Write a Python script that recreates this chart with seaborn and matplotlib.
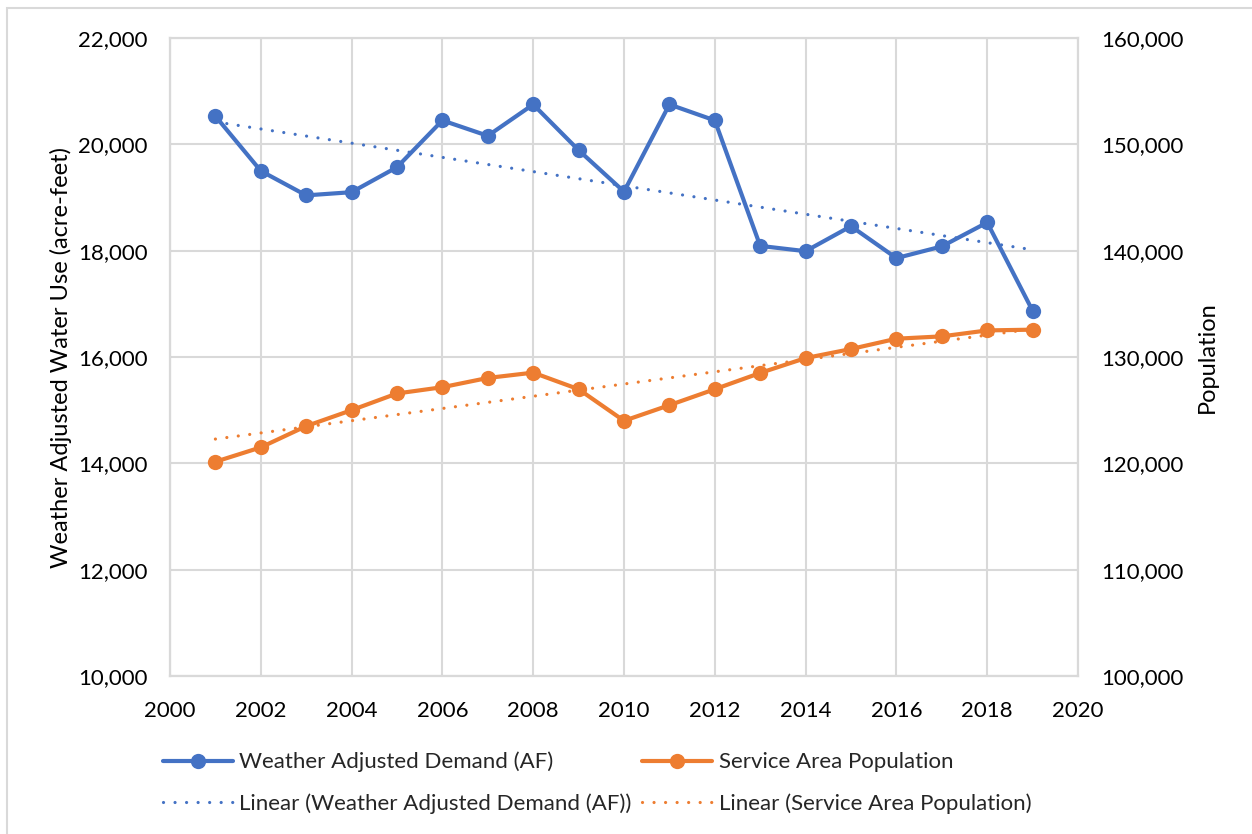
import pandas as pd
import seaborn as sns
import matplotlib
matplotlib.use('Agg')
import matplotlib.pyplot as plt
from matplotlib.ticker import FuncFormatter
from matplotlib.patches import Rectangle

# --- data ---
years = [2001, 2002, 2003, 2004, 2005, 2006, 2007, 2008, 2009, 2010,
         2011, 2012, 2013, 2014, 2015, 2016, 2017, 2018, 2019]
demand_af = [20530, 19500, 19040, 19100, 19570, 20450, 20160, 20750, 19890, 19110,
             20750, 20450, 18090, 17990, 18460, 17860, 18080, 18530, 16870]
population = [120150, 121500, 123500, 125000, 126570, 127160, 128030, 128530, 126970, 124000,
              125470, 126970, 128500, 129900, 130750, 131720, 131940, 132500, 132570]

x_ticks = list(range(2000, 2021, 2))
left_ticks = list(range(10000, 22001, 2000))
right_ticks = list(range(100000, 160001, 10000))

label_demand = "Weather Adjusted Demand (AF)"
label_pop = "Service Area Population"
label_left = "Weather Adjusted Water Use (acre-feet)"
label_right = "Population"

df = pd.DataFrame({"year": years, "demand": demand_af, "population": population})

BLUE = "#4472C4"
ORANGE = "#ED7D31"
GRID = "#D9D9D9"

sns.set_theme(style="white")
plt.rcParams['font.family'] = ['Lato', 'DejaVu Sans']
FS = 16

fig = plt.figure(figsize=(12.52, 8.34), dpi=100)
ax = fig.add_axes([170 / 1252, 1 - 676 / 834, 908 / 1252, 638 / 834])
ax2 = ax.twinx()

# outer chart border (top and left edges visible)
fig.patches.append(Rectangle((7 / 1252, -0.1), 1.2, 1 - 8 / 834 + 0.1,
                             transform=fig.transFigure, fill=False,
                             edgecolor=GRID, linewidth=1.5, zorder=0))

line_kws = dict(linewidth=3, marker="o", markersize=11, markeredgewidth=0)
dot_kws = dict(linestyle=(0, (0.01, 3.6)), linewidth=2.3, dash_capstyle="round")

sns.lineplot(data=df, x="year", y="demand", ax=ax, color=BLUE,
             label=label_demand, zorder=3, **line_kws)
sns.regplot(data=df, x="year", y="demand", ax=ax, scatter=False, ci=None,
            color=BLUE, label="Linear (" + label_demand + ")",
            line_kws=dict(zorder=4, **dot_kws))

sns.lineplot(data=df, x="year", y="population", ax=ax2, color=ORANGE,
             label=label_pop, zorder=3, **line_kws)
sns.regplot(data=df, x="year", y="population", ax=ax2, scatter=False, ci=None,
            color=ORANGE, label="Linear (" + label_pop + ")",
            line_kws=dict(zorder=4, **dot_kws))

h1, l1 = ax.get_legend_handles_labels()
h2, l2 = ax2.get_legend_handles_labels()
for a in (ax, ax2):
    if a.get_legend() is not None:
        a.get_legend().remove()

# axes styling
ax.set_xlim(2000, 2020)
ax.set_ylim(10000, 22000)
ax2.set_ylim(100000, 160000)
ax.set_xticks(x_ticks)
ax.set_yticks(left_ticks)
ax2.set_yticks(right_ticks)
fmt = FuncFormatter(lambda v, p: f"{int(v):,}")
ax.yaxis.set_major_formatter(fmt)
ax2.yaxis.set_major_formatter(fmt)

ax.grid(True, color=GRID, linewidth=1.5)
ax2.grid(False)
for a in (ax, ax2):
    for s in a.spines.values():
        s.set_color(GRID)
        s.set_linewidth(1.5)
ax.spines['left'].set_color("#BFBFBF")
ax.spines['bottom'].set_color("#BFBFBF")

ax.tick_params(axis="x", length=0, pad=18, labelsize=FS, colors="black")
ax.tick_params(axis="y", length=0, pad=16, labelsize=FS, colors="black")
ax2.tick_params(axis="y", length=0, pad=17, labelsize=FS, colors="black")

ax.set_xlabel("")
ax.set_ylabel(label_left, fontsize=FS + 1, color="black")
ax.yaxis.set_label_coords((72 - 170) / 908, 0.5)
ax2.set_ylabel(label_right, fontsize=FS + 1, color="black")
ax2.yaxis.set_label_coords((1197 - 170) / 908, 0.5)

handles = [h1[0], h1[1], h2[0], h2[1]]
labels = [l1[0], l1[1], l2[0], l2[1]]
fig.legend(handles, labels, ncol=2, loc="center",
           bbox_to_anchor=(597 / 1252, 1 - 783 / 834), frameon=False,
           fontsize=FS, handlelength=3.15, handletextpad=0.3,
           columnspacing=0.45, labelspacing=0.95)

plt.savefig("out.png", dpi=100)
plt.close()
